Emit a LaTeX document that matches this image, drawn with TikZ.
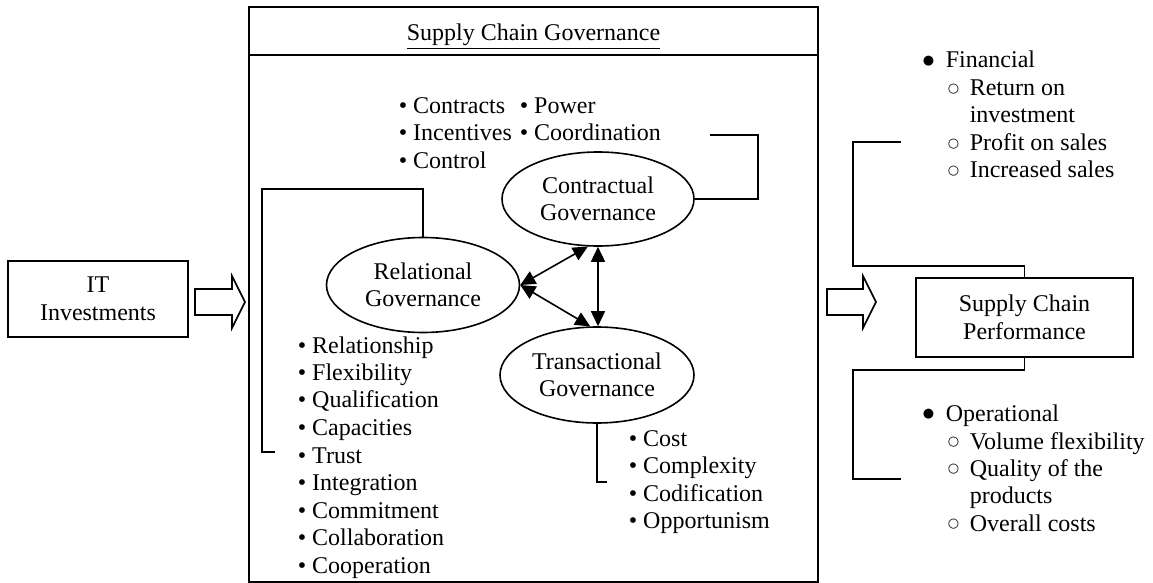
\documentclass[tikz,border=0pt]{standalone}
\usepackage{fontspec}
\setmainfont{Liberation Serif}
\newfontfamily\symfont{DejaVu Sans}
\usetikzlibrary{shapes.geometric,arrows.meta,positioning}
\newcommand\bigdot{\raisebox{1.8pt}{\symfont\fontsize{6.5}{6.5}\selectfont ●}}
\newcommand\ringdot{\raisebox{1.6pt}{\symfont\fontsize{6.5}{6.5}\selectfont ○}}

\begin{document}
\begin{tikzpicture}[x=0.5pt,y=-0.5pt,line width=0.8pt,
  every node/.style={font=\fontsize{12}{13.75}\selectfont},
  gov/.style={draw,ellipse,minimum width=96pt,minimum height=47pt,align=center,inner sep=0pt},
  box/.style={draw,align=center,inner sep=0pt},
  item/.style={anchor=west,inner sep=0pt,text height=10pt,text depth=2pt},
  link/.style={{Triangle[length=7.5pt,width=7pt]}-{Triangle[length=7.5pt,width=7pt]}},
  fat/.style={line join=miter}]
\useasboundingbox (0,0) rectangle (1153,583);

\node[box,minimum width=284.5pt,minimum height=287.5pt] (scg) at (533.5,294.5) {};
\draw ([yshift=-24.5pt]scg.north west) -- ([yshift=-24.5pt]scg.north east);
\node (title) at (533.5,37) {\underline{Supply Chain Governance}};

\node[box,minimum width=90pt,minimum height=38pt] (it) at (98,299) {IT\\Investments};
\node[box,minimum width=108.5pt,minimum height=39.5pt] (scp) at (1024.5,317.5) {Supply Chain\\Performance};

\draw[fat] (195,289) -- (232,289) -- (232,276) -- (245,302) -- (232,328) -- (232,315) -- (195,315) -- cycle;
\draw[fat] (827,289) -- (863,289) -- (863,276) -- (876,302) -- (863,328) -- (863,315) -- (827,315) -- cycle;

\node[gov] (con) at (598,199) {Contractual\\Governance};
\node[gov,minimum width=96.5pt,minimum height=47.5pt] (rel) at (423,285) {Relational\\Governance};
\node[gov,minimum width=97pt,minimum height=48pt] (tra) at (597,375) {Transactional\\Governance};

\draw[link] (rel.east) -- (con.258);
\draw[link] (rel.east) -- (tra.98);
\draw[link] (con.south) -- (con.south |- tra.north);

\coordinate (conend) at (710,135);
\draw (con.east) -| (758,135) -- (conend);
\coordinate (relend) at (275,452);
\draw (rel.north) |- (262,189) -- (262,452) -- (relend);
\coordinate (traend) at (607,482);
\draw (tra.south) |- (traend);

\foreach \t [count=\i] in {Contracts,Incentives,Control}
  \node[item] (c\i) at (398,{105.5+27.3*(\i-1)}) {• \t};
\node[item] (c4) at (519,105.5) {• Power};
\node[item] (c5) at (519,133) {• Coordination};

\foreach \t [count=\i] in {Relationship,Flexibility,Qualification,Capacities,Trust,Integration,Commitment,Collaboration,Cooperation}
  \node[item] (r\i) at (297,{345+27.5*(\i-1)}) {• \t};

\foreach \t [count=\i] in {Cost,Complexity,Codification,Opportunism}
  \node[item] (t\i) at (628,{438+27.5*(\i-1)}) {• \t};

\node[item] (fin) at (922,60) {\makebox[11.5pt][l]{\bigdot}Financial};
\node[item] (f1) at (947,87.5) {\makebox[11pt][l]{\ringdot}Return on};
\node[item] (f2) at (969,115) {investment};
\node[item] (f3) at (947,142.5) {\makebox[11pt][l]{\ringdot}Profit on sales};
\node[item] (f4) at (947,170) {\makebox[11pt][l]{\ringdot}Increased sales};

\node[item] (op) at (922,413) {\makebox[11.5pt][l]{\bigdot}Operational};
\node[item] (o1) at (947,441) {\makebox[11pt][l]{\ringdot}Volume flexibility};
\node[item] (o2) at (947,468) {\makebox[11pt][l]{\ringdot}Quality of the};
\node[item] (o3) at (969,495.5) {products};
\node[item] (o4) at (947,523) {\makebox[11pt][l]{\ringdot}Overall costs};

\coordinate (finend) at (901,142);
\draw (scp.north) |- (853,266) -- (853,142) -- (finend);
\coordinate (opend) at (901,479);
\draw (scp.south) |- (853,370) -- (853,479) -- (opend);
\end{tikzpicture}
\end{document}
